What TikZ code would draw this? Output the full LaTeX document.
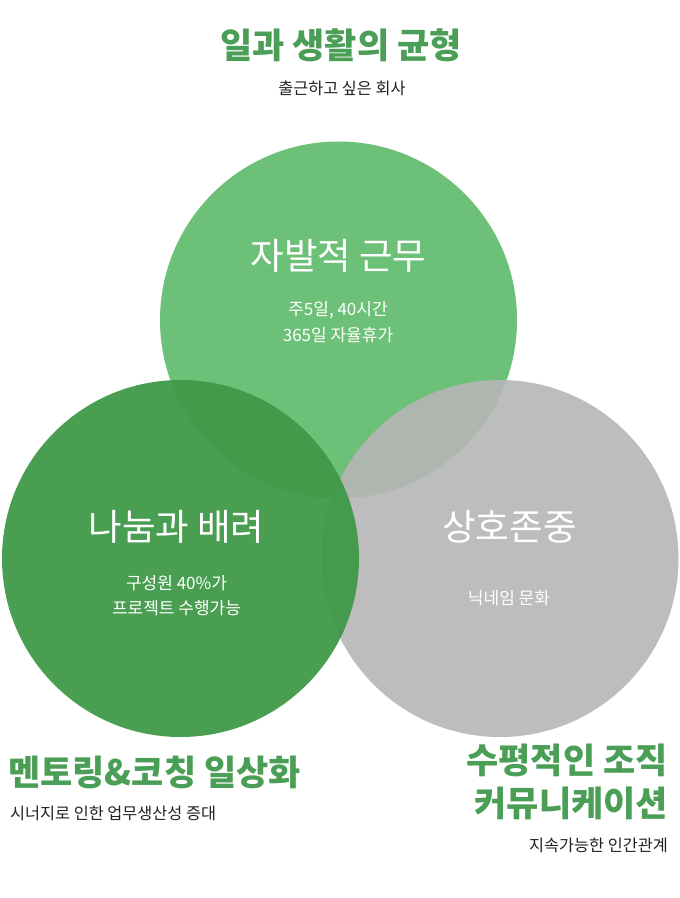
\documentclass[tikz,border=0pt]{standalone}
\usepackage{fontspec}
\newfontfamily\kr{Noto Sans CJK KR}
\definecolor{topgreen}{HTML}{6CC077}
\definecolor{leftgreen}{HTML}{409948}
\definecolor{graycirc}{HTML}{B6B6B6}
\definecolor{headgreen}{HTML}{4A9E55}
\definecolor{darktext}{HTML}{222222}
\tikzset{
  headline/.style={font=\kr\bfseries\fontsize{35}{40}\selectfont, text=headgreen, inner sep=0pt},
  subline/.style={font=\kr\fontsize{16.3}{20}\selectfont, text=darktext, inner sep=0pt},
  circhead/.style={font=\kr\fontsize{36.5}{42}\selectfont, text=white, inner sep=0pt},
  circtext/.style={font=\kr\fontsize{17}{20}\selectfont, text=white, inner sep=0pt},
}
\begin{document}
\begin{tikzpicture}[x=1pt,y=-1pt]
\useasboundingbox (0,0) rectangle (680,898);
\fill[white] (0,0) rectangle (680,898);
% circles
\fill[topgreen] (338.5,320) circle[radius=178.5pt];
\fill[graycirc, fill opacity=0.9] (500,558.5) circle[radius=178.5pt];
\fill[leftgreen, fill opacity=0.95] (180.5,558.5) circle[radius=178.5pt];
% top title
\node[headline] (title) at (341,45) {일과 생활의 균형};
\node[subline] (subtitle) at (342,88) {출근하고 싶은 회사};
% top circle
\node[circhead] (c1head) at (338.5,256) {자발적 근무};
\node[circtext] (c1a) at (338,310) {주5일, 40시간};
\node[circtext] (c1b) at (338,335) {365일 자율휴가};
% left circle
\node[circhead] (c2head) at (176.5,527) {나눔과 배려};
\node[circtext] (c2a) at (176.5,583) {구성원 40\%가};
\node[circtext] (c2b) at (176.5,608) {프로젝트 수행가능};
% right circle
\node[circhead] (c3head) at (509.5,527) {상호존중};
\node[circtext] (c3a) at (509,598) {닉네임 문화};
% bottom left
\node[headline, anchor=west] (blhead) at (8,772) {멘토링\&코칭 일상화};
\node[subline, anchor=west] (blsub) at (10,813) {시너지로 인한 업무생산성 증대};
% bottom right
\node[headline, anchor=east] (brhead1) at (668,760) {수평적인 조직};
\node[headline, anchor=east] (brhead2) at (668,803) {커뮤니케이션};
\node[subline, anchor=east] (brsub) at (668,845) {지속가능한 인간관계};
\end{tikzpicture}
\end{document}
